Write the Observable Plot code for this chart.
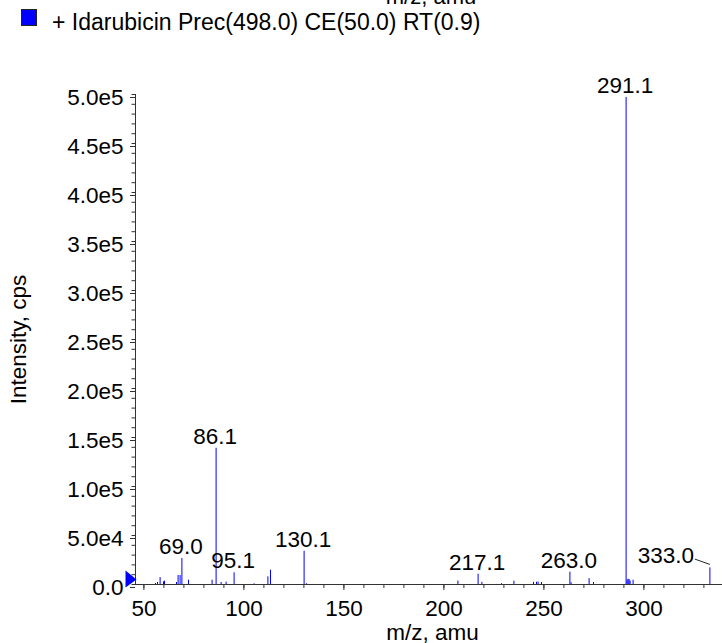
<!DOCTYPE html>
<html>
<head>
<meta charset="utf-8">
<script src="https://cdn.jsdelivr.net/npm/d3@7"></script>
<script src="https://cdn.jsdelivr.net/npm/@observablehq/plot@0.6"></script>
<style>
  html, body { margin: 0; padding: 0; background: #fff; }
  body { font-family: "Liberation Sans", Arial, Helvetica, sans-serif; color: #000; }
  #wrap { width: 722px; height: 643px; overflow: hidden; position: relative; }
  #head { position: relative; height: 60px; }
  #cut { position: absolute; left: 431px; top: -13.6px; transform: translateX(-50%); font-size: 22px; line-height: 22px; white-space: nowrap; }
  #swatch { position: absolute; left: 21px; top: 9px; width: 16px; height: 17px; box-sizing: border-box; border: 1px solid #222; background: #0000ff; }
  #legend { position: absolute; left: 52px; top: 10.6px; font-size: 23px; line-height: 23px; white-space: nowrap; }
  svg { display: block; }
</style>
</head>
<body>
<div id="wrap">
  <div id="head">
    <div id="cut"></div>
    <div id="swatch"></div>
    <div id="legend"></div>
  </div>
  <div id="chart"></div>
</div>
<script>
// ---- data ----
const titleText = "+ Idarubicin Prec(498.0) CE(50.0) RT(0.9)";
const xTitle = "m/z, amu";
const yTitle = "Intensity, cps";

const peakMz = [55.8, 56.8, 58.1, 59.8, 60.3, 66.3, 67.1, 68.1, 69.0, 72.3,
  84.1, 86.1, 88.6, 91.1, 95.1, 105.1, 112.0, 113.3, 130.1, 131.3,
  207.0, 217.1, 219.0, 228.8, 235.0, 244.8, 246.3, 247.1, 248.8, 263.0,
  263.6, 272.6, 274.8, 291.1, 291.6, 292.1, 292.6, 293.1, 294.6, 333.0];
const peakIntensity = [1000, 2000, 7000, 2700, 3400, 2000, 9200, 9200, 26500, 4400,
  4400, 139000, 2000, 2400, 11900, 700, 7800, 14600, 34000, 700,
  3500, 10500, 2200, 800, 3400, 2200, 2300, 2500, 2000, 12600,
  1800, 6000, 2000, 497000, 4500, 5300, 5000, 3500, 4400, 17000];

const labeledMz = [69.0, 86.1, 95.1, 130.1, 217.1, 263.0, 291.1];
const leaderMz = [333.0];

const xDomain = [45.8, 339.3];
const yDomain = [0, 500000];
const xTicks = [50, 100, 150, 200, 250, 300];
const xTickLabels = ["50", "100", "150", "200", "250", "300"];
const xMinorTicks = [50, 60, 70, 80, 90, 100, 110, 120, 130, 140, 150, 160, 170, 180, 190, 200, 210, 220, 230, 240, 250, 260, 270, 280, 290, 300, 310, 320, 330];
const yTicks = [0, 50000, 100000, 150000, 200000, 250000, 300000, 350000, 400000, 450000, 500000];
const yTickLabels = ["0.0", "5.0e4", "1.0e5", "1.5e5", "2.0e5", "2.5e5", "3.0e5", "3.5e5", "4.0e5", "4.5e5", "5.0e5"];
const yMinorTicks = d3.range(0, 500001, 10000);

// ---- build ----
document.getElementById("cut").textContent = xTitle;
document.getElementById("legend").textContent = titleText;

const peaks = peakMz.map((mz, i) => ({mz, int: peakIntensity[i]}));
const lookup = mz => peaks.find(p => p.mz === mz);
const labeled = labeledMz.map(lookup);
const leader = leaderMz.map(lookup);

const blue = "#0000ff";
const axisColor = "#333";

const originMarker = {
  draw(ctx) {
    ctx.moveTo(-10, -14);
    ctx.lineTo(1, -5);
    ctx.lineTo(-10, 3);
    ctx.closePath();
  }
};

const chart = Plot.plot({
  width: 722,
  height: 583,
  marginTop: 34,
  marginBottom: 59,
  marginLeft: 135,
  marginRight: 0,
  style: {fontFamily: "'Liberation Sans', Arial, Helvetica, sans-serif", fontSize: "22.5px", background: "#fff", color: "#000"},
  x: {domain: xDomain},
  y: {domain: yDomain},
  marks: [
    // peaks
    Plot.ruleX(peaks, {x: "mz", y1: 0, y2: "int", stroke: blue, strokeWidth: 1}),
    // axes lines
    Plot.frame({anchor: "left", stroke: axisColor}),
    Plot.frame({anchor: "bottom", stroke: axisColor}),
    // y minor ticks
    Plot.axisY(yMinorTicks, {tickSize: 3.5, tickFormat: () => "", stroke: axisColor, label: null}),
    // y major ticks & labels
    Plot.axisY(yTicks, {tickSize: 5, tickPadding: 7, dy: 3, tickFormat: d => yTickLabels[yTicks.indexOf(d)], stroke: axisColor, fill: "#000", label: null}),
    // x minor ticks
    Plot.axisX(xMinorTicks, {tickSize: 4, tickFormat: () => "", stroke: axisColor, label: null}),
    // x major ticks & labels
    Plot.axisX(xTicks, {tickSize: 6, tickPadding: 10, tickFormat: d => xTickLabels[xTicks.indexOf(d)], stroke: axisColor, fill: "#000", label: null}),
    // axis titles
    Plot.text([xTitle], {frameAnchor: "bottom", dx: 3.5, dy: 55, lineAnchor: "bottom", fill: "#000"}),
    Plot.text([yTitle], {frameAnchor: "left", dx: -116.5, rotate: -90, textAnchor: "middle", lineAnchor: "middle", fill: "#000"}),
    // peak labels
    Plot.text(labeled, {x: "mz", y: "int", text: d => d.mz.toFixed(1), lineAnchor: "bottom", dx: -1, dy: -4.5, fill: "#000"}),
    Plot.text(leader, {x: "mz", y: "int", text: d => d.mz.toFixed(1), lineAnchor: "bottom", dx: -44, dy: -5, fill: "#000"}),
    Plot.link(leader, {x1: d => d.mz - 7.5, y1: d => d.int + 8900, x2: d => d.mz, y2: d => d.int + 3500, stroke: "#222", strokeWidth: 1}),
    // origin marker
    Plot.dot([0], {x: () => xDomain[0], y: () => 0, symbol: originMarker, fill: blue, stroke: "none"})
  ]
});
document.getElementById("chart").appendChild(chart);
</script>
</body>
</html>
